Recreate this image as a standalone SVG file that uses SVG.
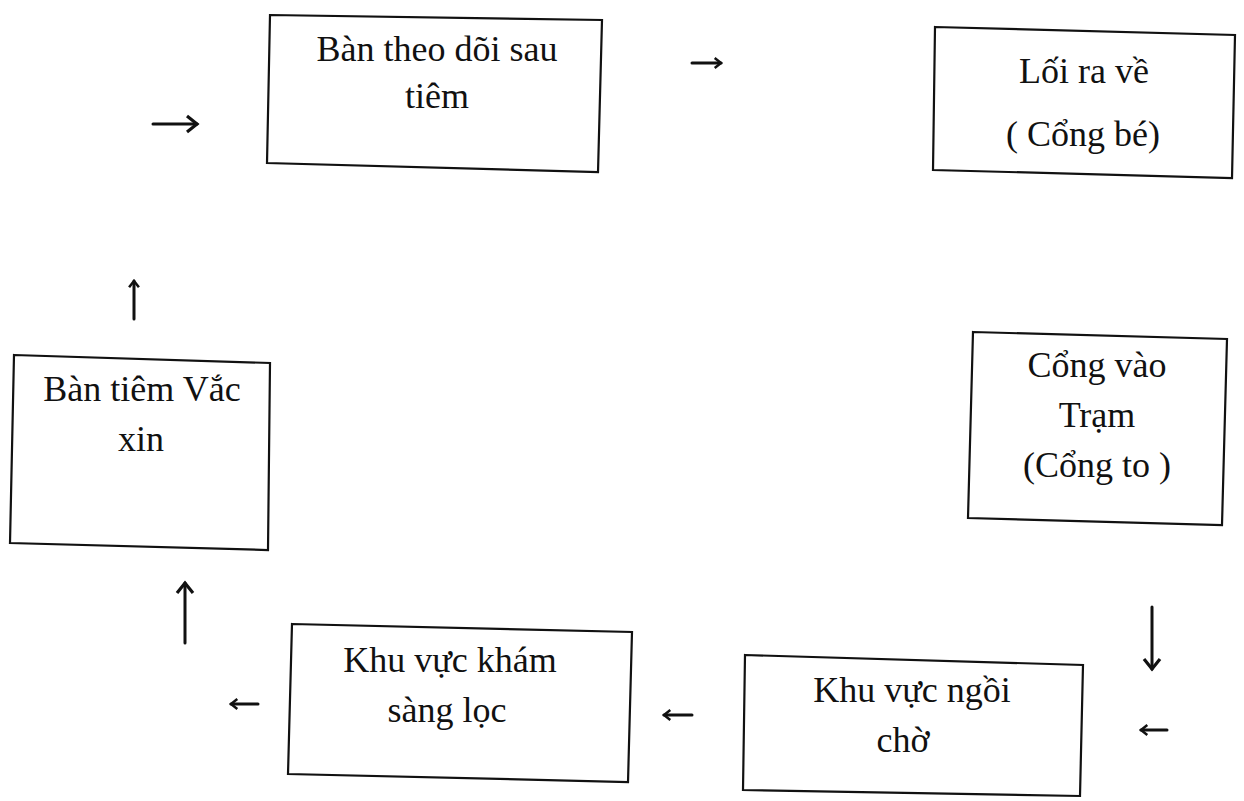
<svg xmlns="http://www.w3.org/2000/svg" width="1244" height="801" viewBox="0 0 1244 801">
<style>
.box{fill:#fff;stroke:#111;stroke-width:2.2}
.t{font-family:"Liberation Serif","Times New Roman",serif;font-size:36px;fill:#111;text-anchor:middle}
.c{stroke:#111;stroke-width:3;fill:none;stroke-linecap:round}
</style>
<defs>
<marker id="ah" markerUnits="userSpaceOnUse" viewBox="0 0 20 20" refX="17" refY="10" markerWidth="20" markerHeight="20" orient="auto">
<path d="M7,2 L17,10 L7,18" fill="none" stroke="#111" stroke-width="3.2" stroke-linejoin="miter"/>
</marker>
<marker id="ahs" markerUnits="userSpaceOnUse" viewBox="0 0 20 20" refX="17" refY="10" markerWidth="14" markerHeight="14" orient="auto">
<path d="M8,3 L17,10 L8,17" fill="none" stroke="#111" stroke-width="3.6"/>
</marker>
</defs>
<rect width="1244" height="801" fill="#fff"/>
<g id="node-theo-doi">
<polygon class="box" points="270,15 602,20 598,172 267,163"/>
<text class="t" x="437" y="61">Bàn theo dõi sau</text>
<text class="t" x="437" y="108">tiêm</text>
</g>
<g id="node-loi-ra">
<polygon class="box" points="935,27 1235,35 1232,178 933,170"/>
<text class="t" x="1084" y="83">Lối ra về</text>
<text class="t" x="1083" y="146">( Cổng bé)</text>
</g>
<g id="node-ban-tiem">
<polygon class="box" points="14,355 270,363 268,550 10,543"/>
<text class="t" x="142" y="401">Bàn tiêm Vắc</text>
<text class="t" x="141" y="451">xin</text>
</g>
<g id="node-cong-vao">
<polygon class="box" points="973,332 1227,339 1222,525 968,518"/>
<text class="t" x="1097" y="377">Cổng vào</text>
<text class="t" x="1097" y="427">Trạm</text>
<text class="t" x="1097" y="477">(Cổng to )</text>
</g>
<g id="node-kham">
<polygon class="box" points="292,624 632,632 628,782 288,774"/>
<text class="t" x="450" y="672">Khu vực khám</text>
<text class="t" x="447" y="722">sàng lọc</text>
</g>
<g id="node-ngoi-cho">
<polygon class="box" points="745,655 1083,665 1080,796 743,790"/>
<text class="t" x="912" y="702">Khu vực ngồi</text>
<text class="t" x="903" y="752">chờ</text>
</g>
<g id="connectors">
<line class="c" x1="153" y1="124" x2="197" y2="124" marker-end="url(#ah)"/>
<line class="c" x1="692" y1="63" x2="721" y2="63" marker-end="url(#ahs)"/>
<line class="c" x1="134" y1="319" x2="134" y2="281" marker-end="url(#ahs)"/>
<line class="c" x1="185" y1="643" x2="185" y2="583" marker-end="url(#ah)"/>
<line class="c" x1="1152" y1="607" x2="1152" y2="669" marker-end="url(#ah)"/>
<line class="c" x1="1167" y1="730" x2="1141" y2="730" marker-end="url(#ahs)"/>
<line class="c" x1="692" y1="715" x2="664" y2="715" marker-end="url(#ahs)"/>
<line class="c" x1="258" y1="704" x2="231" y2="704" marker-end="url(#ahs)"/>
</g>
</svg>
